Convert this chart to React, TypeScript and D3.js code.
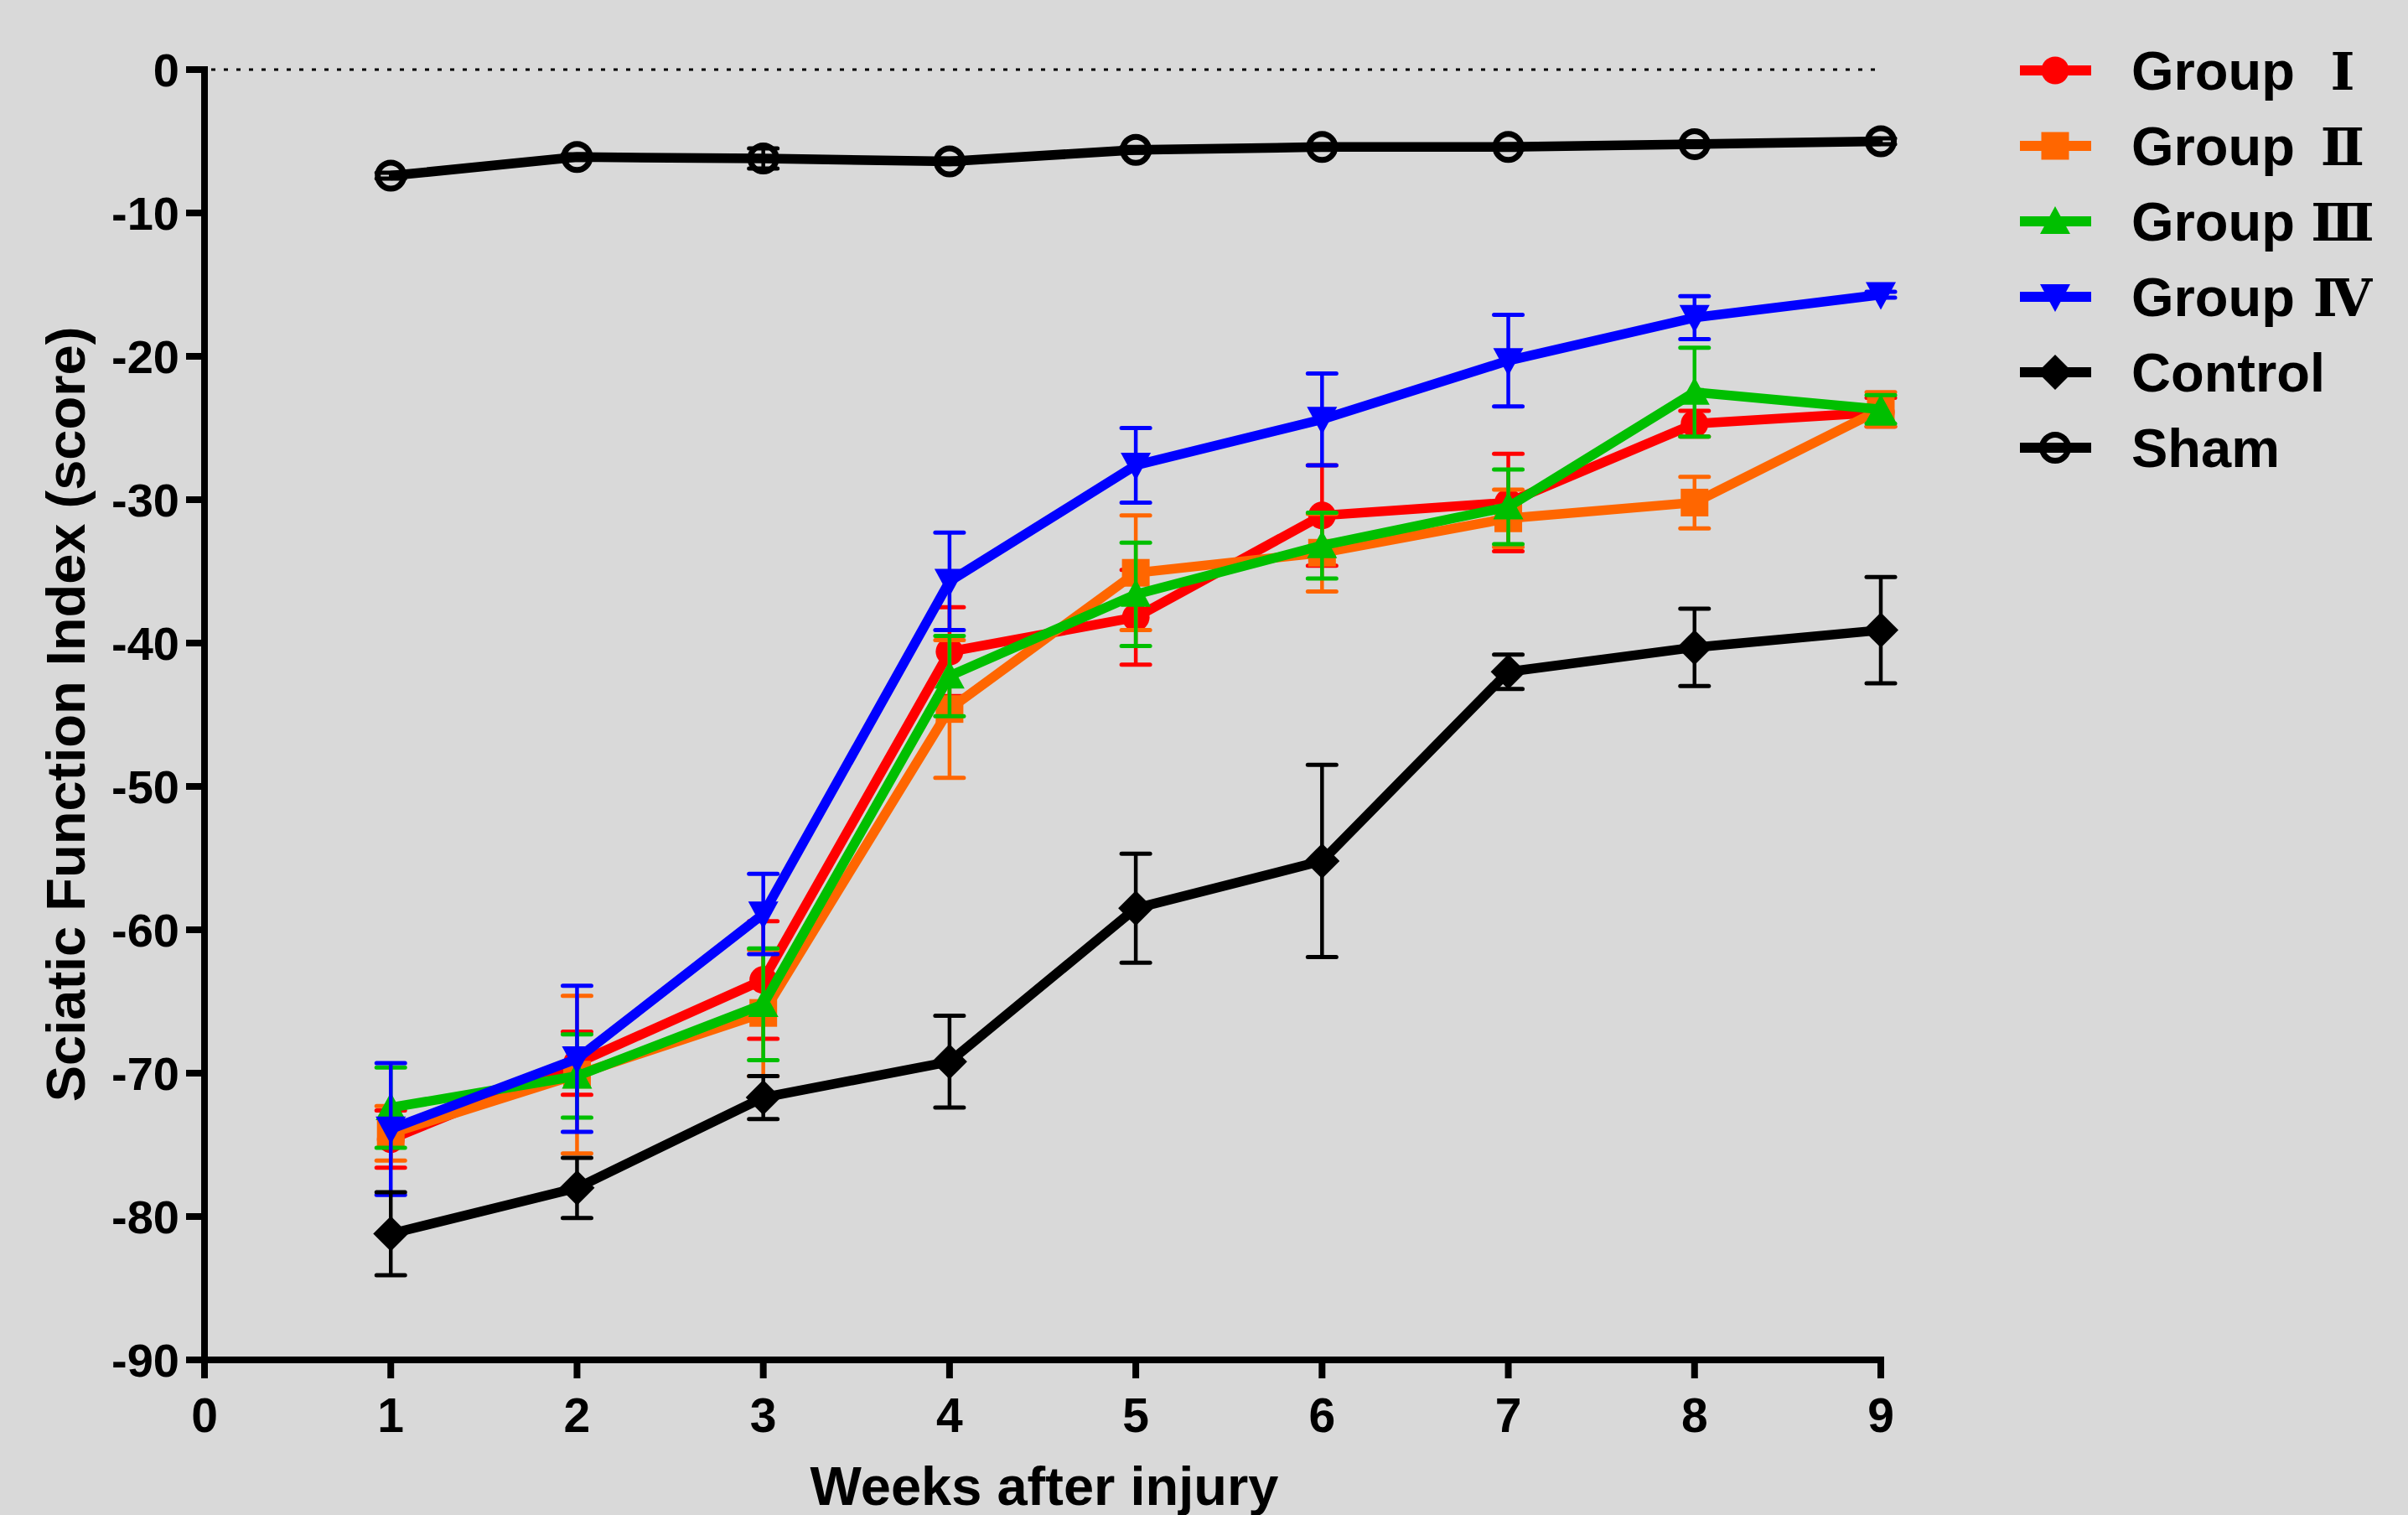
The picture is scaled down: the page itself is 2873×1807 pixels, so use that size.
import React from "react";
import * as d3 from "d3";

const weeks = [1, 2, 3, 4, 5, 6, 7, 8, 9];
const xTicks = [0, 1, 2, 3, 4, 5, 6, 7, 8, 9];
const yTicks = [0, -10, -20, -30, -40, -50, -60, -70, -80, -90];

const group1 = [-74.6, -69.3, -63.5, -40.6, -38.2, -31.1, -30.2, -24.7, -23.9];
const group1Err = [2.0, 2.2, 4.1, 3.1, 3.3, 3.5, 3.4, 0.9, 1.0];
const group2 = [-74.2, -70.1, -65.8, -44.6, -35.1, -33.7, -31.3, -30.2, -23.7];
const group2Err = [1.9, 5.5, 4.4, 4.8, 4.0, 2.7, 2.0, 1.8, 1.2];
const group3 = [-72.4, -70.2, -65.2, -42.3, -36.6, -33.2, -30.5, -22.5, -23.7];
const group3Err = [2.8, 2.9, 3.9, 2.8, 3.6, 2.3, 2.6, 3.1, 1.0];
const group4 = [-73.9, -69.0, -58.9, -35.7, -27.6, -24.4, -20.3, -17.3, -15.7];
const group4Err = [4.6, 5.1, 2.8, 3.4, 2.6, 3.2, 3.2, 1.5, 0.2];
const control = [-81.2, -78.0, -71.7, -69.2, -58.5, -55.2, -42.0, -40.3, -39.1];
const controlErr = [2.9, 2.1, 1.5, 3.2, 3.8, 6.7, 1.2, 2.7, 3.7];
const sham = [-7.4, -6.1, -6.2, -6.4, -5.6, -5.4, -5.4, -5.2, -5.0];
const shamErr = [0.2, 0.2, 0.7, 0.2, 0.2, 0.2, 0.2, 0.2, 0.2];

const seriesNames = ["Group", "Group", "Group", "Group", "Control", "Sham"];
const numerals = ["Ⅰ", "Ⅱ", "Ⅲ", "Ⅳ", "", ""];

type Shape = "circle" | "square" | "tri" | "invtri" | "diamond" | "open";

const series: { name: string; numeral: string; values: number[]; errs: number[]; color: string; shape: Shape }[] = [
  { name: seriesNames[0], numeral: numerals[0], values: group1, errs: group1Err, color: "#FF0000", shape: "circle" },
  { name: seriesNames[1], numeral: numerals[1], values: group2, errs: group2Err, color: "#FF6600", shape: "square" },
  { name: seriesNames[2], numeral: numerals[2], values: group3, errs: group3Err, color: "#00BF00", shape: "tri" },
  { name: seriesNames[3], numeral: numerals[3], values: group4, errs: group4Err, color: "#0000FF", shape: "invtri" },
  { name: seriesNames[4], numeral: numerals[4], values: control, errs: controlErr, color: "#000000", shape: "diamond" },
  { name: seriesNames[5], numeral: numerals[5], values: sham, errs: shamErr, color: "#000000", shape: "open" },
];

const W = 2873;
const H = 1807;
const FONT = "Arial, 'Liberation Sans', Helvetica, sans-serif";

const x = d3.scaleLinear().domain([0, 9]).range([244, 2244]);
const y = d3.scaleLinear().domain([-90, 0]).range([1622, 83]);

function Marker({ cx, cy, shape, color }: { cx: number; cy: number; shape: Shape; color: string }) {
  switch (shape) {
    case "circle":
      return <circle cx={cx} cy={cy} r={16.5} fill={color} />;
    case "square":
      return <rect x={cx - 16.5} y={cy - 16.5} width={33} height={33} fill={color} />;
    case "tri":
      return <path d={`M${cx},${cy - 18}L${cx + 18},${cy + 15}L${cx - 18},${cy + 15}Z`} fill={color} />;
    case "invtri":
      return <path d={`M${cx},${cy + 18}L${cx + 18},${cy - 15}L${cx - 18},${cy - 15}Z`} fill={color} />;
    case "diamond":
      return <path d={`M${cx},${cy - 21}L${cx + 21},${cy}L${cx},${cy + 21}L${cx - 21},${cy}Z`} fill={color} />;
    case "open":
      return <circle cx={cx} cy={cy} r={15.5} fill="none" stroke={color} strokeWidth={7} />;
  }
}

export default function App() {
  const line = d3
    .line<number>()
    .x((_, i) => x(weeks[i]))
    .y((d) => y(d));

  return (
    <svg width={W} height={H} style={{ position: "absolute", left: 0, top: 0 }} fontFamily={FONT}>
      <rect x={0} y={0} width={W} height={H} fill="#D9D9D9" />

      {/* dotted zero line */}
      <line x1={x(0) + 8} x2={x(9)} y1={y(0)} y2={y(0)} stroke="#000" strokeWidth={3} strokeDasharray="5 10" />

      {/* axes */}
      <line x1={x(0)} x2={x(0)} y1={y(0) - 4} y2={y(-90) + 4} stroke="#000" strokeWidth={8} />
      <line x1={x(0) - 4} x2={x(9) + 4} y1={y(-90)} y2={y(-90)} stroke="#000" strokeWidth={8} />
      {yTicks.map((t) => (
        <g key={"yt" + t}>
          <line x1={x(0) - 22} x2={x(0)} y1={y(t)} y2={y(t)} stroke="#000" strokeWidth={8} />
          <text x={214} y={y(t) + 20} textAnchor="end" fontSize={56} fontWeight="bold">
            {t}
          </text>
        </g>
      ))}
      {xTicks.map((t) => (
        <g key={"xt" + t}>
          <line x1={x(t)} x2={x(t)} y1={y(-90)} y2={y(-90) + 22} stroke="#000" strokeWidth={8} />
          <text x={x(t)} y={1708} textAnchor="middle" fontSize={57} fontWeight="bold">
            {t}
          </text>
        </g>
      ))}

      {/* axis titles */}
      <text x={1246} y={1795} textAnchor="middle" fontSize={65} fontWeight="bold">
        Weeks after injury
      </text>
      <text
        transform={`translate(101,852) rotate(-90)`}
        textAnchor="middle"
        fontSize={65}
        fontWeight="bold"
      >
        Sciatic Function Index (score)
      </text>

      {/* series */}
      {series.map((s, si) => (
        <g key={"s" + si}>
          {s.values.map((v, i) => {
            const cx = x(weeks[i]);
            const top = y(v + s.errs[i]);
            const bot = y(v - s.errs[i]);
            return (
              <g key={"e" + i}>
                <line x1={cx} x2={cx} y1={top} y2={bot} stroke={s.color} strokeWidth={4.5} />
                <line x1={cx - 17} x2={cx + 17} y1={top} y2={top} stroke={s.color} strokeWidth={5} strokeLinecap="round" />
                <line x1={cx - 17} x2={cx + 17} y1={bot} y2={bot} stroke={s.color} strokeWidth={5} strokeLinecap="round" />
              </g>
            );
          })}
          <path d={line(s.values) || ""} fill="none" stroke={s.color} strokeWidth={11.5} strokeLinejoin="miter" />
          {s.values.map((v, i) => (
            <Marker key={"m" + i} cx={x(weeks[i])} cy={y(v)} shape={s.shape} color={s.color} />
          ))}
        </g>
      ))}

      {/* legend */}
      {series.map((s, si) => {
        const ly = 84 + si * 90;
        return (
          <g key={"l" + si}>
            <line x1={2410} x2={2495} y1={ly} y2={ly} stroke={s.color} strokeWidth={12} />
            <Marker cx={2452} cy={ly} shape={s.shape} color={s.color} />
            <text x={2543} y={ly + 23} fontSize={65} fontWeight="bold">
              {s.name}
            </text>
            {s.numeral && (
              <text
                x={2795}
                y={ly + 23}
                textAnchor="middle"
                fontSize={62}
                fontWeight="bold"
                fontFamily="'DejaVu Serif', 'Noto Sans CJK SC', serif"
              >
                {s.numeral}
              </text>
            )}
          </g>
        );
      })}
    </svg>
  );
}
